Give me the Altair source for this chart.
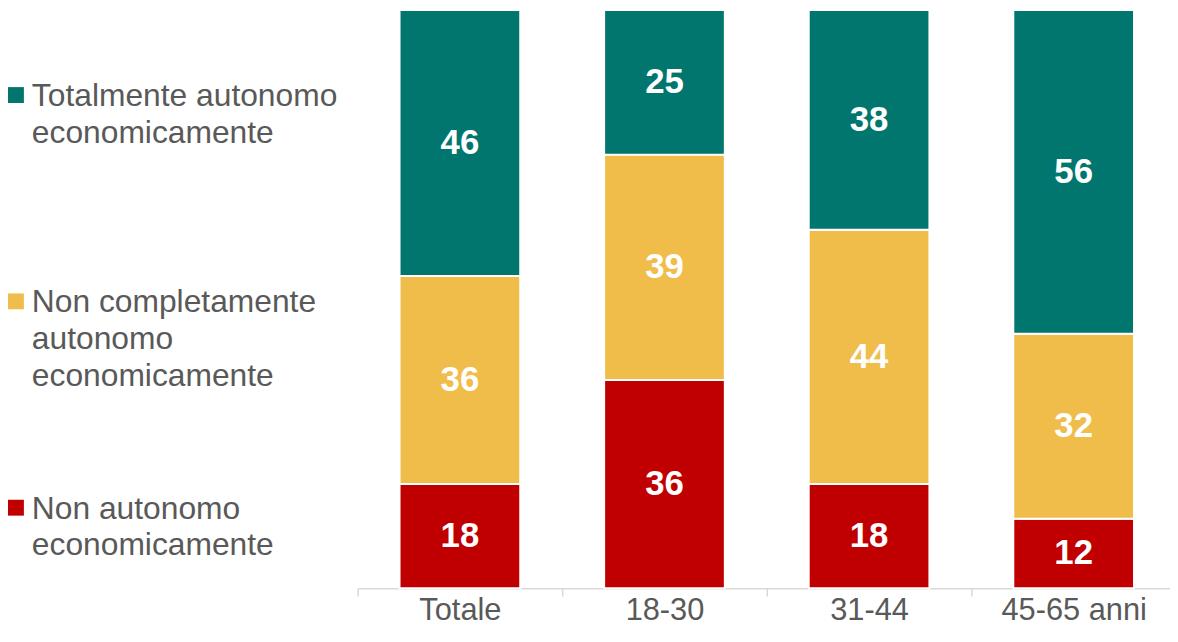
import altair as alt
import pandas as pd

categories = ["Totale", "18-30", "31-44", "45-65 anni"]
series = [
    "Non autonomo economicamente",
    "Non completamente autonomo economicamente",
    "Totalmente autonomo economicamente",
]
legend_labels = [
    "Non autonomo\neconomicamente",
    "Non completamente\nautonomo\neconomicamente",
    "Totalmente autonomo\neconomicamente",
]
non_autonomo = [18, 36, 18, 12]
non_completamente = [36, 39, 44, 32]
totalmente = [46, 25, 38, 56]
colors = ["#C00000", "#F0BD4B", "#00766F"]

FONT = "Liberation Sans"
GREY = "#595959"

rows = []
for s_i, (s, vals) in enumerate(zip(series, [non_autonomo, non_completamente, totalmente])):
    for c, v in zip(categories, vals):
        rows.append({"cat": c, "series": s, "value": v, "ord": s_i})
df = pd.DataFrame(rows)

color_scale = alt.Scale(domain=series, range=colors)
y_scale = alt.Scale(domain=[0, 100], nice=False, zero=True)
# the category axis runs on past the right edge of the picture, as in the original
x_scale = alt.Scale(paddingInner=0, paddingOuter=0, range=[0, 824])

base = alt.Chart(df)
bars = base.mark_bar(
    stroke="white", strokeWidth=2, width=alt.RelativeBandSize(0.59)
).encode(
    x=alt.X(
        "cat:N",
        sort=categories,
        scale=x_scale,
        axis=alt.Axis(
            title=None,
            labelAngle=0,
            labelFont=FONT,
            labelFontSize=31,
            labelColor=GREY,
            domainColor="#D9D9D9",
            domainWidth=1.5,
            tickColor="#D9D9D9",
            tickWidth=1.5,
            tickSize=8,
            tickBand="extent",
            labelPadding=0,
        ),
    ),
    y=alt.Y("value:Q", stack="zero", scale=y_scale, axis=None),
    color=alt.Color("series:N", scale=color_scale, legend=None),
    order=alt.Order("ord:Q", sort="ascending"),
)

labels = (
    base.transform_stack(
        stack="value",
        groupby=["cat"],
        as_=["v0", "v1"],
        sort=[alt.SortField("ord", order="ascending")],
    )
    .transform_calculate(mid="(datum.v0 + datum.v1) / 2")
    .mark_text(font=FONT, fontSize=35, fontWeight="bold", color="white", baseline="middle")
    .encode(
        x=alt.X("cat:N", sort=categories, scale=x_scale),
        y=alt.Y("mid:Q", scale=y_scale, axis=None),
        text=alt.Text("value:Q"),
    )
)

leg_df = pd.DataFrame({"series": series, "label": legend_labels})
leg_order = list(reversed(series))
leg_y = alt.Y(
    "series:N", sort=leg_order, scale=alt.Scale(range=[85.5, 501], padding=0), axis=None
)

leg_sq = alt.Chart(leg_df).mark_square(size=256, filled=True, opacity=1).encode(
    x=alt.value(-344),
    y=leg_y,
    color=alt.Color("series:N", scale=color_scale, legend=None),
)
leg_txt = alt.Chart(leg_df).mark_text(
    align="left",
    baseline="alphabetic",
    dy=11,
    font=FONT,
    fontSize=32,
    color=GREY,
    lineBreak="\n",
    lineHeight=37,
).encode(
    x=alt.value(-328),
    y=leg_y,
    text="label:N",
)

chart = (
    alt.layer(bars, labels, leg_sq, leg_txt)
    .resolve_scale(y="independent")
    .properties(
        width=818,
        height=582,
        autosize=alt.AutoSizeParams(type="none"),
        padding={"left": 352, "top": 0, "right": 0, "bottom": 39},
        background="white",
    )
    .configure_view(stroke=None)
)

chart.save("out.html", embed_options={"renderer": "svg", "actions": False})
